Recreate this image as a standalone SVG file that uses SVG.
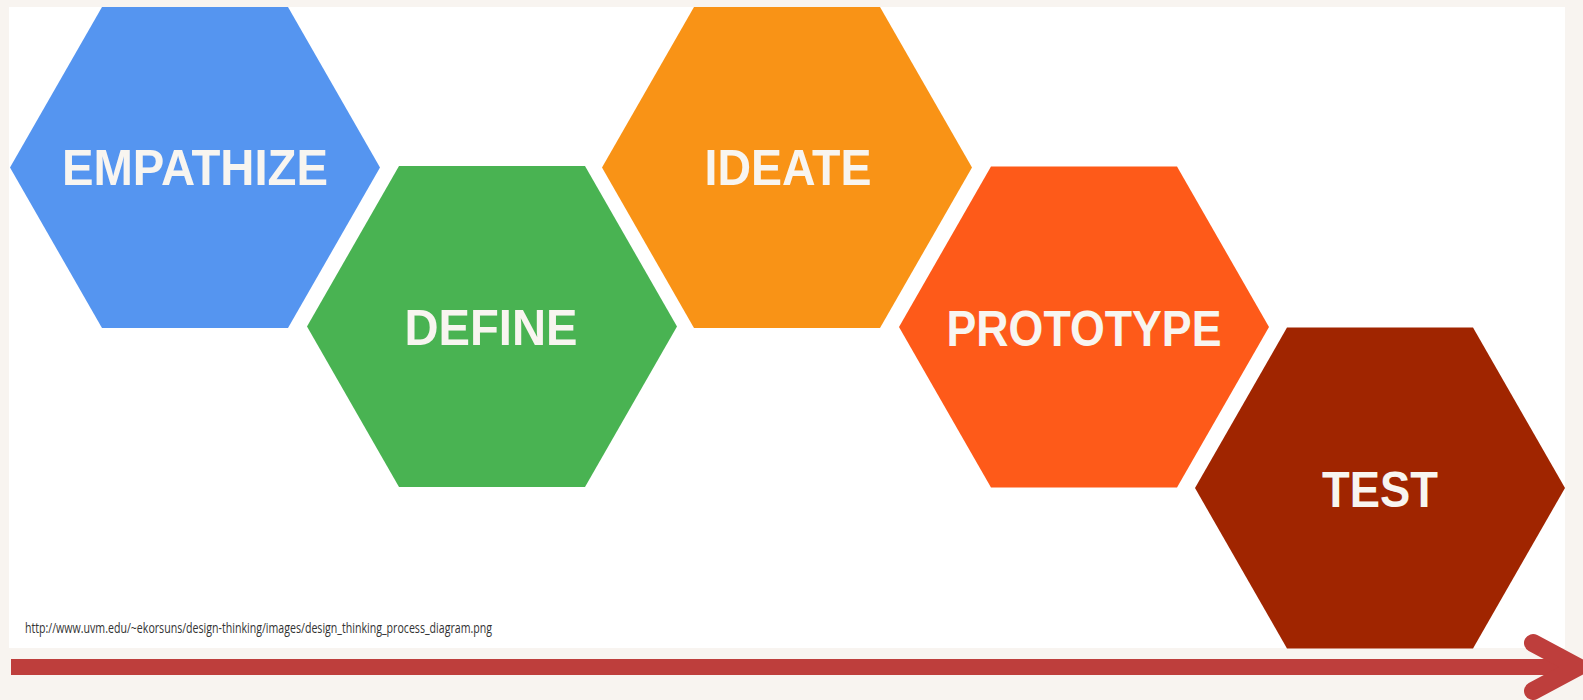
<svg xmlns="http://www.w3.org/2000/svg" xmlns:xlink="http://www.w3.org/1999/xlink" width="1583" height="700" viewBox="0 0 1583 700">
<style>
.lbl{font-family:"Liberation Sans",Arial,sans-serif;font-weight:bold;font-size:50px;fill:#F8F5F0;text-anchor:middle}
.url{font-family:"Open Sans","Liberation Sans",sans-serif;font-size:14px;fill:#333333}
.blue{fill:#5595F0}.green{fill:#49B352}.orange{fill:#F99316}.red{fill:#FE5A19}.dark{fill:#A02500}
</style>
<defs>
<polygon id="hex" points="-185,0 -93,-160.5 93,-160.5 185,0 93,160.5 -93,160.5"/>
</defs>
<rect width="1583" height="700" fill="#F8F4F0"/>
<rect x="9" y="7" width="1556" height="641" fill="#FFFFFF"/>
<g id="empathize">
<use xlink:href="#hex" x="195" y="167.5" class="blue"/>
<text class="lbl" x="195" y="185" textLength="266" lengthAdjust="spacingAndGlyphs">EMPATHIZE</text>
</g>
<g id="define">
<use xlink:href="#hex" x="492" y="326.5" class="green"/>
<text class="lbl" x="491" y="345" textLength="173" lengthAdjust="spacingAndGlyphs">DEFINE</text>
</g>
<g id="ideate">
<use xlink:href="#hex" x="787" y="167.5" class="orange"/>
<text class="lbl" x="788" y="185" textLength="167" lengthAdjust="spacingAndGlyphs">IDEATE</text>
</g>
<g id="prototype">
<use xlink:href="#hex" x="1084" y="327" class="red"/>
<text class="lbl" x="1084" y="346" textLength="275" lengthAdjust="spacingAndGlyphs">PROTOTYPE</text>
</g>
<g id="test">
<use xlink:href="#hex" x="1380" y="488" class="dark"/>
<text class="lbl" x="1380" y="507" textLength="116" lengthAdjust="spacingAndGlyphs">TEST</text>
</g>
<text class="url" x="25" y="633" textLength="467" lengthAdjust="spacingAndGlyphs">http://www.uvm.edu/~ekorsuns/design-thinking/images/design_thinking_process_diagram.png</text>
<g id="connectors">
<line x1="11" y1="667" x2="1572" y2="667" stroke="#BE3E3C" stroke-width="16"/>
<polyline points="1533,643 1578,667 1533,691" fill="none" stroke="#BE3E3C" stroke-width="18" stroke-linecap="round" stroke-linejoin="miter"/>
</g>
</svg>
